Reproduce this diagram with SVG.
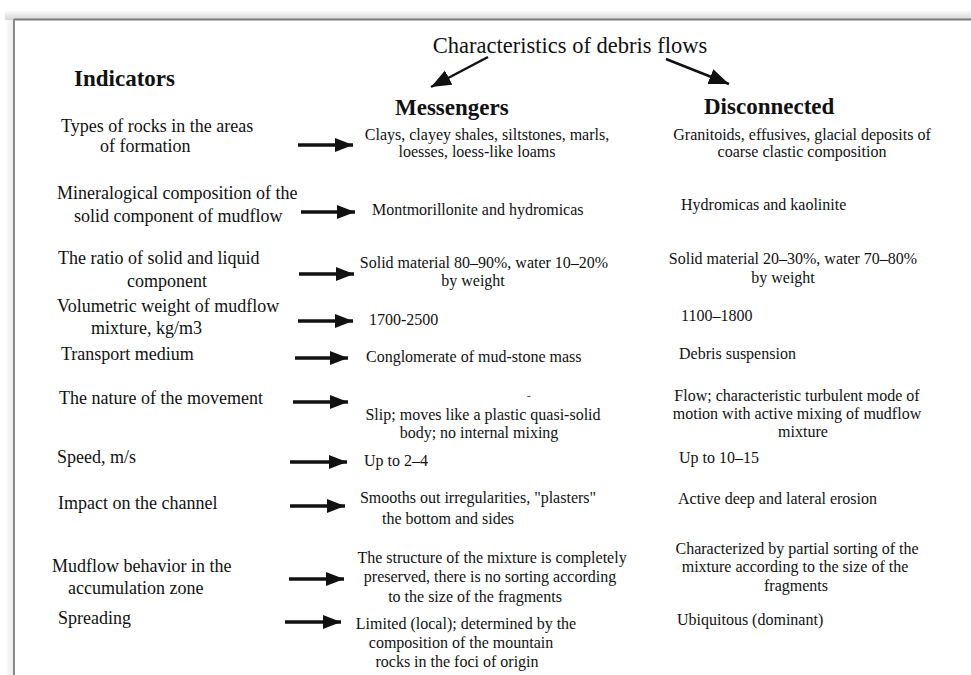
<svg xmlns="http://www.w3.org/2000/svg" width="971" height="675" viewBox="0 0 971 675">
<defs>
<linearGradient id="bar" x1="0" y1="0" x2="0" y2="1">
<stop offset="0" stop-color="#fafafa"/>
<stop offset="1" stop-color="#d4d4d4"/>
</linearGradient>
<linearGradient id="side" x1="0" y1="0" x2="1" y2="0">
<stop offset="0" stop-color="#ffffff"/>
<stop offset="1" stop-color="#ececec"/>
</linearGradient>
<marker id="ah" markerUnits="userSpaceOnUse" markerWidth="20" markerHeight="16" refX="18" refY="7" orient="auto">
<path d="M0,0 L18,7 L0,14 Z" fill="#111"/>
</marker>
<marker id="ahd" markerUnits="userSpaceOnUse" markerWidth="22" markerHeight="18" refX="20" refY="8" orient="auto">
<path d="M0,0 L20,8 L0,16 Z" fill="#111"/>
</marker>
</defs>
<style>
text{font-family:"Liberation Serif","Times New Roman",serif;fill:#111}
.title{font-size:22.5px}
.hdr{font-size:23px;font-weight:bold}
.ind{font-size:18px}
.col{font-size:16px}
.mid{text-anchor:middle}
.row{stroke:#111;stroke-width:3.5;fill:none;marker-end:url(#ah)}
.diag{stroke:#111;stroke-width:2.5;fill:none;marker-end:url(#ahd)}
</style>
<rect width="971" height="675" fill="#ffffff"/>
<g id="frame">
<rect x="5" y="11" width="966" height="9" fill="url(#bar)"/>
<rect x="5" y="20" width="8" height="655" fill="url(#side)"/>
<line x1="14" y1="19.5" x2="971" y2="19.5" stroke="#7a7a7a" stroke-width="2"/>
<line x1="14" y1="19" x2="14" y2="675" stroke="#8a8a8a" stroke-width="2"/>
</g>
<g id="title"><text class="title" x="570" y="53" text-anchor="middle">Characteristics of debris flows</text></g>
<g id="hdr-indicators"><text class="hdr" x="74" y="86">Indicators</text></g>
<g id="hdr-messengers"><text class="hdr" x="395" y="115">Messengers</text></g>
<g id="hdr-disconnected"><text class="hdr" x="704" y="114">Disconnected</text></g>

<g id="ind-1"><text class="ind" x="61" y="132">Types of rocks in the areas</text><text class="ind" x="100" y="152">of formation</text></g>
<g id="ind-2"><text class="ind" x="57" y="199">Mineralogical composition of the</text><text class="ind" x="74" y="222">solid component of mudflow</text></g>
<g id="ind-3"><text class="ind" x="58" y="264">The ratio of solid and liquid</text><text class="ind" x="127" y="287">component</text></g>
<g id="ind-4"><text class="ind" x="57" y="312">Volumetric weight of mudflow</text><text class="ind" x="91" y="334">mixture, kg/m3</text></g>
<g id="ind-5"><text class="ind" x="61" y="360">Transport medium</text></g>
<g id="ind-6"><text class="ind" x="59" y="404">The nature of the movement</text></g>
<g id="ind-7"><text class="ind" x="57" y="463">Speed, m/s</text></g>
<g id="ind-8"><text class="ind" x="58" y="509">Impact on the channel</text></g>
<g id="ind-9"><text class="ind" x="52" y="572">Mudflow behavior in the</text><text class="ind" x="68" y="594">accumulation zone</text></g>
<g id="ind-10"><text class="ind" x="58" y="624">Spreading</text></g>

<g id="mes-1"><text class="col mid" x="487" y="140">Clays, clayey shales, siltstones, marls,</text><text class="col mid" x="477" y="157">loesses, loess-like loams</text></g>
<g id="mes-2"><text class="col" x="372" y="215">Montmorillonite and hydromicas</text></g>
<g id="mes-3"><text class="col mid" x="484" y="268">Solid material 80–90%, water 10–20%</text><text class="col mid" x="473" y="286">by weight</text></g>
<g id="mes-4"><text class="col" x="369" y="325">1700-2500</text></g>
<g id="mes-5"><text class="col" x="366" y="362">Conglomerate of mud-stone mass</text></g>
<g id="mes-6"><text class="col" x="527" y="399" style="font-size:11px">-</text><text class="col mid" x="483" y="420">Slip; moves like a plastic quasi-solid</text><text class="col mid" x="479" y="438">body; no internal mixing</text></g>
<g id="mes-7"><text class="col" x="364" y="466">Up to 2–4</text></g>
<g id="mes-8"><text class="col mid" x="478" y="503">Smooths out irregularities, "plasters"</text><text class="col mid" x="448" y="524">the bottom and sides</text></g>
<g id="mes-9"><text class="col mid" x="492" y="563">The structure of the mixture is completely</text><text class="col mid" x="490" y="582">preserved, there is no sorting according</text><text class="col mid" x="475" y="602">to the size of the fragments</text></g>
<g id="mes-10"><text class="col mid" x="466" y="629">Limited (local); determined by the</text><text class="col mid" x="461" y="648">composition of the mountain</text><text class="col mid" x="457" y="667">rocks in the foci of origin</text></g>

<g id="dis-1"><text class="col mid" x="802" y="140">Granitoids, effusives, glacial deposits of</text><text class="col mid" x="802" y="157">coarse clastic composition</text></g>
<g id="dis-2"><text class="col" x="681" y="210">Hydromicas and kaolinite</text></g>
<g id="dis-3"><text class="col mid" x="793" y="264">Solid material 20–30%, water 70–80%</text><text class="col mid" x="783" y="283">by weight</text></g>
<g id="dis-4"><text class="col" x="681" y="321">1100–1800</text></g>
<g id="dis-5"><text class="col" x="679" y="359">Debris suspension</text></g>
<g id="dis-6"><text class="col mid" x="797" y="401">Flow; characteristic turbulent mode of</text><text class="col mid" x="797" y="419">motion with active mixing of mudflow</text><text class="col mid" x="803" y="437">mixture</text></g>
<g id="dis-7"><text class="col" x="679" y="463">Up to 10–15</text></g>
<g id="dis-8"><text class="col" x="678" y="504">Active deep and lateral erosion</text></g>
<g id="dis-9"><text class="col mid" x="797" y="554">Characterized by partial sorting of the</text><text class="col mid" x="795" y="572">mixture according to the size of the</text><text class="col mid" x="796" y="591">fragments</text></g>
<g id="dis-10"><text class="col" x="677" y="625">Ubiquitous (dominant)</text></g>

<g id="connectors">
<line class="diag" x1="488" y1="57" x2="431" y2="87"/>
<line class="diag" x1="666" y1="59" x2="729" y2="84"/>
<line class="row" x1="298" y1="145" x2="353" y2="145"/>
<line class="row" x1="301" y1="212" x2="355" y2="212"/>
<line class="row" x1="299" y1="274" x2="354" y2="274"/>
<line class="row" x1="298" y1="321" x2="353" y2="321"/>
<line class="row" x1="295" y1="358" x2="348" y2="358"/>
<line class="row" x1="293" y1="402" x2="348" y2="402"/>
<line class="row" x1="290" y1="462" x2="347" y2="462"/>
<line class="row" x1="290" y1="506" x2="345" y2="506"/>
<line class="row" x1="289" y1="579" x2="344" y2="579"/>
<line class="row" x1="285" y1="622" x2="341" y2="622"/>
</g>
</svg>
